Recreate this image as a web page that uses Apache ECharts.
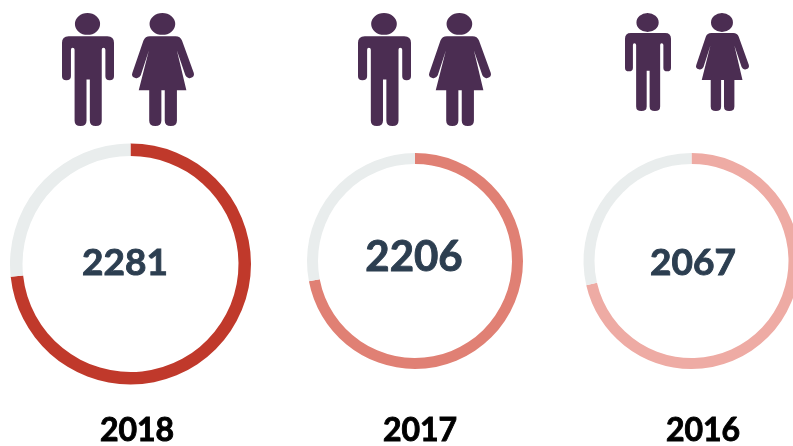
<!DOCTYPE html>
<html><head><meta charset="utf-8">
<style>html,body{margin:0;padding:0;background:#fff}#c{width:793px;height:446px}</style>
<script src="https://cdn.jsdelivr.net/npm/echarts@6/dist/echarts.min.js"></script>
</head><body><div id="c"></div>
<script>
const years = ['2018', '2017', '2016'];
const totals = ['2281', '2206', '2067'];
const filledShare = [73.3, 72, 71.4];
const restShare = [26.7, 28, 28.6];

const colors = ['#c0392b', '#e08074', '#eeaba4'];
const trackColor = '#e9eded';
const iconColor = '#4b2d52';
const centers = [[130.5, 264], [415, 261], [691.5, 261]];
const radii = [[108, 120.5], [97, 108], [97, 108]];
const totalText = [[125, 263, 37], [414, 257, 42], [693, 263, 37]];
const yearText = [[137, 431], [420, 431], [703, 431]];
const manBoxes = [[62, 13, 52, 113], [358, 13, 53, 113], [625, 13, 46, 98]];
const womanBoxes = [[132, 13, 62, 113], [429, 13, 62, 113], [696, 13, 53, 98]];

const manPath = 'M104 70a38 33 0 1 1 76 0a38 33 0 1 1-76 0ZM85 107H202Q222 107 222 127V228Q222 240 209 240Q196 240 196 228V148Q196 142 190 142Q185 142 185 148V362Q185 378 167 378Q149 378 149 362V238H139V362Q139 378 121 378Q103 378 103 362V148Q103 142 97 142Q92 142 92 148V228Q92 240 78 240Q65 240 65 228V127Q65 107 85 107Z';
const womanPath = 'M329 70a38 33 0 1 1 76 0a38 33 0 1 1-76 0ZM330 107H406Q420 107 425 120L460 218Q463 230 450 233Q440 236 435 225L410 150L438 270H410V362Q410 378 392 378Q374 378 374 362V270H364V362Q364 378 346 378Q328 378 328 362V270H297L327 150L303 225Q298 236 287 233Q274 230 278 218L311 120Q316 107 330 107Z';

const iconSeries = (d, boxes) => ({
  type: 'custom', coordinateSystem: 'none', silent: true,
  data: boxes.map((b, i) => i),
  renderItem: (params) => {
    const b = boxes[params.dataIndex];
    return { type: 'path',
      shape: { pathData: d, layout: 'cover', x: b[0], y: b[1], width: b[2], height: b[3] },
      style: { fill: iconColor } };
  }
});
const text = (s, x, y, size, fill) => ({
  type: 'text', silent: true, x, y,
  style: { text: s, x: 0, y: 0, fill, stroke: fill, lineWidth: 0.9, align: 'center', verticalAlign: 'middle',
           font: `bold ${size}px Lato, "Open Sans", sans-serif` }
});

const chart = echarts.init(document.getElementById('c'), null, { renderer: 'canvas' });
chart.setOption({
  animation: false,
  backgroundColor: '#fff',
  series: [
    ...years.map((y, i) => ({
      type: 'pie', name: y, center: centers[i], radius: radii[i],
      startAngle: 90, clockwise: true, silent: true,
      label: { show: false }, labelLine: { show: false },
      data: [
        { name: 'filled', value: filledShare[i], itemStyle: { color: colors[i] } },
        { name: 'rest', value: restShare[i], itemStyle: { color: trackColor } }
      ]
    })),
    iconSeries(manPath, manBoxes),
    iconSeries(womanPath, womanBoxes)
  ],
  graphic: { elements: [
    ...totals.map((t, i) => text(t, totalText[i][0], totalText[i][1], totalText[i][2], '#2c3e50')),
    ...years.map((t, i) => text(t, yearText[i][0], yearText[i][1], 32, '#000'))
  ] }
});
</script></body></html>
